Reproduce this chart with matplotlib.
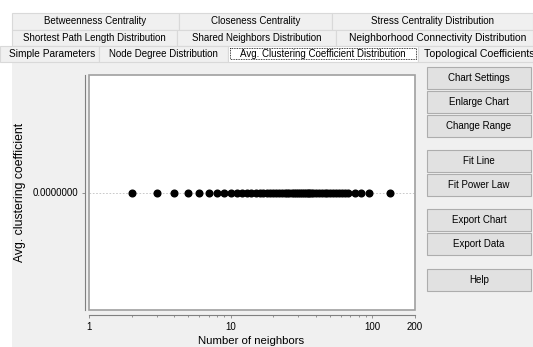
import matplotlib.pyplot as plt
from matplotlib.patches import Rectangle

plt.rcParams['font.family'] = ['Liberation Sans', 'DejaVu Sans']

# data
neighbors = [2, 3, 4, 5, 6, 7, 8, 9, 10, 11, 12, 13, 14, 15, 16, 17, 18, 19, 20,
             21, 22, 23, 24, 25, 26, 27, 28, 29, 30, 31, 32, 33, 34, 35, 36, 37,
             38, 40, 42, 44, 46, 48, 50, 53, 55, 58, 61, 64, 67, 76, 83, 95, 133]
avg_clustering = [0.0] * len(neighbors)
x_ticks = [1, 10, 100, 200]
x_tick_labels = ['1', '10', '100', '200']
y_ticks = [0.0]
y_tick_labels = ['0.0000000']

tab_rows = [
    ['Betweenness Centrality', 'Closeness Centrality', 'Stress Centrality Distribution'],
    ['Shortest Path Length Distribution', 'Shared Neighbors Distribution',
     'Neighborhood Connectivity Distribution'],
    ['Simple Parameters', 'Node Degree Distribution',
     'Avg. Clustering Coefficient Distribution', 'Topological Coefficients'],
]
buttons = ['Chart Settings', 'Enlarge Chart', 'Change Range', 'Fit Line',
           'Fit Power Law', 'Export Chart', 'Export Data', 'Help']

W, H = 533, 347
fig = plt.figure(figsize=(W / 100, H / 100), dpi=100)
fig.patch.set_facecolor('white')

# overlay in pixel coordinates for the window parts
gui = fig.add_axes([0, 0, 1, 1], zorder=0)
gui.set_xlim(0, W)
gui.set_ylim(H, 0)
gui.axis('off')

gui.add_patch(Rectangle((12, 62), W - 12, H - 62, facecolor='#f0f0f0', edgecolor='none'))

# tabs
row_y = [(13, 30), (30, 46), (46, 62)]
row_edges = [[12, 179, 332, 533], [12, 177, 336, 533], [0, 99, 228, 418, 540]]
# left-aligned start and size for tabs at the window edges
cut_text = {(1, 2): (349, 7.4), (2, 0): (9, 7.3), (2, 3): (424, 7.6)}
for r, labels in enumerate(tab_rows):
    y0, y1 = row_y[r]
    edges = row_edges[r]
    for i, lab in enumerate(labels):
        x0, x1 = edges[i], edges[i + 1]
        sel = (r == 2 and i == 2)
        gui.add_patch(Rectangle((x0, y0), x1 - x0, y1 - y0,
                                facecolor='white' if sel else '#f0f0f0',
                                edgecolor='#d9d9d9', lw=0.8))
        if sel:
            gui.add_patch(Rectangle((x0 + 2, y0 + 2), x1 - x0 - 4, y1 - y0 - 5,
                                    fill=False, edgecolor='black', lw=0.6, ls=(0, (1, 1))))
        if (r, i) in cut_text:
            tx, fs = cut_text[(r, i)]
            gui.text(tx, (y0 + y1) / 2 - 0.5, lab, fontsize=fs,
                     ha='left', va='center', clip_on=True)
        else:
            gui.text((x0 + x1) / 2, (y0 + y1) / 2 - 0.5, lab, fontsize=7,
                     ha='center', va='center', clip_on=True)

# buttons
button_y = [78, 102, 126, 161, 185, 220, 244, 280]
for lab, yc in zip(buttons, button_y):
    gui.add_patch(Rectangle((427, yc - 11), 104, 22, facecolor='#e1e1e1',
                            edgecolor='#adadad', lw=0.8))
    gui.text(479, yc, lab, fontsize=7, ha='center', va='center')

gui.text(20, 192, 'Avg. clustering coefficient', fontsize=8.8, rotation=90,
         ha='center', va='center')
gui.text(251, 341, 'Number of neighbors', fontsize=8.2, ha='center', va='center')

# chart
ax = fig.add_axes([89 / W, 1 - 310 / H, (415 - 89) / W, (310 - 75) / H], zorder=1)
ax.set_facecolor('white')
ax.plot(neighbors, avg_clustering, 'o', color='black', markersize=4.8, zorder=3)
ax.set_xscale('log')
ax.set_xlim(1, 200)
ax.set_ylim(-1, 1)
ax.set_xticks(x_ticks)
ax.set_xticklabels(x_tick_labels)
ax.set_yticks(y_ticks)
ax.set_yticklabels(y_tick_labels)
ax.axhline(0, color='#c0c0c0', lw=0.6, ls=(0, (2, 2)), zorder=1)

for s in ['top', 'right']:
    ax.spines[s].set_visible(False)
ax.spines['left'].set_position(('outward', 3))
ax.spines['bottom'].set_position(('outward', 3.6))
ax.spines['left'].set_color('#808080')
ax.spines['bottom'].set_color('#808080')
ax.add_patch(Rectangle((0, 0), 1, 1, transform=ax.transAxes, fill=False,
                       edgecolor='#a0a0a0', lw=1.2, clip_on=False))
ax.tick_params(axis='both', which='major', length=2, width=0.6, color='#808080',
               labelsize=7, pad=3)
ax.tick_params(axis='x', which='minor', length=1.5, width=0.6, color='#808080')

fig.savefig('out.png', dpi=100, facecolor=fig.get_facecolor())
